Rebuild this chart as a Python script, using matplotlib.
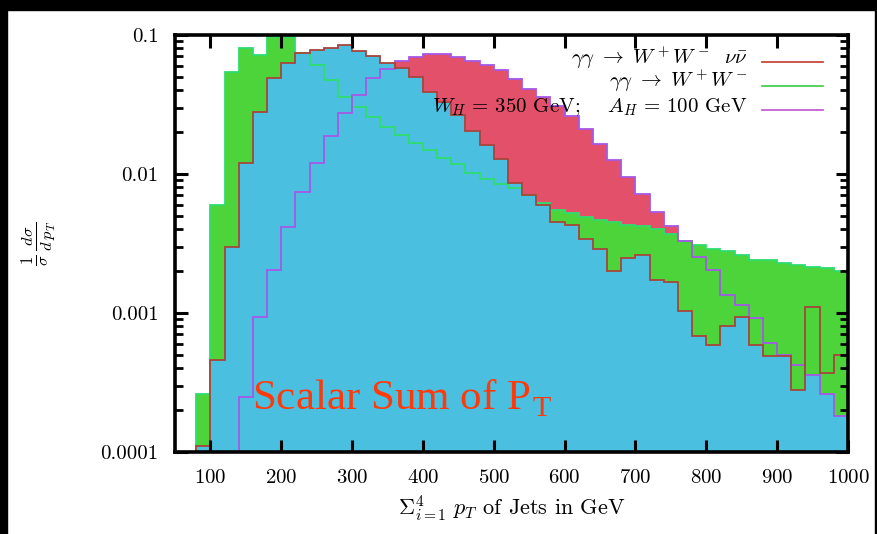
import numpy as np
import matplotlib.pyplot as plt

plt.rcParams['mathtext.fontset'] = 'cm'
plt.rcParams['font.family'] = 'serif'
plt.rcParams['font.serif'] = ['cmr10', 'DejaVu Serif']
plt.rcParams['axes.unicode_minus'] = False
plt.rcParams['axes.formatter.use_mathtext'] = True

# 20 GeV bins of the scalar pT sum
edges = np.arange(80, 1001, 20)

# gamma gamma -> W+W- nu nubar
ww_nunu = [1.1e-4, 4.6e-4, 3.0e-3, 0.012, 0.028, 0.049, 0.063, 0.074, 0.078, 0.081,
           0.085, 0.076, 0.071, 0.063, 0.0576, 0.0501, 0.0391, 0.0331, 0.0265, 0.0202,
           0.0162, 0.0128, 0.0086, 0.0071, 0.0060, 0.00454, 0.0043, 0.0034, 0.00288, 0.00201,
           0.00249, 0.00261, 0.00173, 0.00168, 0.00104, 0.00068, 0.00059, 0.00080, 0.00094, 0.00059,
           0.00049, 0.00049, 0.00028, 0.00111, 0.00037, 0.00050]

# gamma gamma -> W+W-
ww = [2.6e-4, 0.006, 0.054, 0.080, 0.072, 0.097, 0.097, 0.074, 0.061, 0.0474,
      0.036, 0.0302, 0.0256, 0.0219, 0.0191, 0.0168, 0.0149, 0.0131, 0.0118, 0.0102,
      0.0092, 0.0085, 0.0079, 0.0071, 0.0062, 0.0055, 0.0052, 0.0049, 0.0047, 0.00454,
      0.0043, 0.0042, 0.0040, 0.0037, 0.0033, 0.0031, 0.0029, 0.0028, 0.0026, 0.0024,
      0.0024, 0.0023, 0.0022, 0.00215, 0.0021, 0.0020]

# W_H = 350 GeV, A_H = 100 GeV
higgs = [0, 0, 0, 0.00025, 0.00094, 0.00204, 0.00418, 0.00746, 0.0119, 0.0186,
         0.0273, 0.037, 0.0488, 0.0566, 0.0645, 0.0698, 0.0729, 0.0729, 0.0698, 0.0653,
         0.0608, 0.056, 0.048, 0.041, 0.036, 0.031, 0.026, 0.021, 0.0165, 0.0125,
         0.0095, 0.0072, 0.0053, 0.0042, 0.0033, 0.00254, 0.00204, 0.00135, 0.00114, 0.00092,
         0.00061, 0.0005, 0.00042, 0.00036, 0.00026, 0.00018]

labels = [r'$\gamma\gamma\ \rightarrow\ W^+W^-\ \ \nu\bar{\nu}$',
          r'$\gamma\gamma\ \rightarrow\ W^+W^-$',
          r'$W_H\,=\,350$ GeV;    $A_H\,=\,100$ GeV']

floor = 1e-6
r = np.maximum(np.array(ww_nunu), floor)
g = np.maximum(np.array(ww), floor)
h = np.maximum(np.array(higgs), floor)

c_blue = '#4bbfe0'
c_green = '#4cd43a'
c_rose = '#e2506a'
l_red = '#a8453a'
l_green = '#2fdc6f'
l_purple = '#a458e6'

fig = plt.figure(figsize=(8.77, 5.34), dpi=100)
ax = fig.add_axes([0.1995, 0.1536, 0.7674, 0.781])
ax.set_yscale('log')

# filled bands
ax.stairs(h, edges, baseline=floor, fill=True, color=c_rose, lw=0)
ax.stairs(g, edges, baseline=floor, fill=True, color=c_green, lw=0)
ax.stairs(r, edges, baseline=floor, fill=True, color=c_blue, lw=0)
tail = (edges[:-1] >= 940) & (h < r)
ax.stairs(np.where(tail, r, h), edges, baseline=h, fill=True, color=c_green, lw=0)

# histogram outlines
ax.stairs(g, edges, baseline=floor, color=l_green, lw=1.3)
ax.stairs(h, edges, baseline=floor, color=l_purple, lw=1.3)
ax.stairs(r, edges, baseline=floor, color=l_red, lw=1.3)

ax.set_xlim(50, 1000)
ax.set_ylim(1e-4, 0.1)
ax.set_xticks(range(100, 1001, 100))
ax.set_yticks([1e-4, 1e-3, 1e-2, 1e-1], ['0.0001', '0.001', '0.01', '0.1'])
ax.tick_params(which='both', direction='in', top=True, right=True, labelsize=15)
ax.tick_params(which='major', length=9, width=2.2, pad=12)
ax.tick_params(which='minor', length=5.5, width=2)
ax.tick_params(axis='x', which='minor', length=0)
for s in ax.spines.values():
    s.set_linewidth(2.6)

ax.set_xlabel(r'$\Sigma_{i=1}^{4}\ p_T$ of Jets in GeV', fontsize=16, labelpad=5)

# key in the upper right corner
line_colors = ['#c0392b', '#3ec83e', '#c050d0']
ys = [0.935, 0.878, 0.820]
for lab, col, y in zip(labels, line_colors, ys):
    ax.text(0.851, y - 0.004, lab, transform=ax.transAxes, ha='right', va='baseline', fontsize=15)
    ax.plot([0.872, 0.963], [y, y], transform=ax.transAxes, color=col, lw=1.2)

fig.text(0.043, 0.545, r'$\frac{1}{\sigma}\,\frac{d\sigma}{d\,p_T}$', rotation=90,
         ha='center', va='center', fontsize=17)

fig.text(0.287, 0.232, r'Scalar Sum of P$_\mathregular{T}$', color='#ff3a0a',
         fontsize=31, family='Liberation Serif', va='baseline')

# black frame strips
fig.patches.append(plt.Rectangle((0, 1 - 10 / 534), 1, 10 / 534, transform=fig.transFigure, color='black'))
fig.patches.append(plt.Rectangle((0, 0), 7 / 877, 1, transform=fig.transFigure, color='black'))
fig.patches.append(plt.Rectangle((1 - 2 / 877, 0), 2 / 877, 1, transform=fig.transFigure, color='black'))

fig.savefig('out.png', dpi=100)
